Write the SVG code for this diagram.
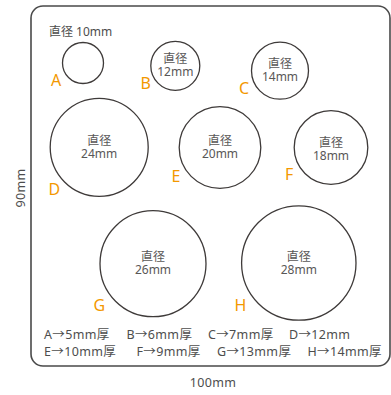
<svg xmlns="http://www.w3.org/2000/svg" width="391" height="395" viewBox="0 0 391 395">
<style>
text{font-family:"Noto Sans","Noto Sans CJK JP",sans-serif;}
.c{fill:none;stroke:#3e3a39;stroke-width:1.3;}
.t{font-size:12px;fill:#595757;text-anchor:middle;}
.l{font-size:16px;fill:#f39800;}
.g{font-size:12px;fill:#4d4d4d;}
.k{font-size:12.5px;fill:#4d4d4d;letter-spacing:0.35px;}
</style>
<rect x="31" y="6" width="359" height="360" rx="12" fill="#fff" stroke="#4a4a4a" stroke-width="1.6"/>
<text class="g" x="49" y="36">直径 10mm</text>
<g id="A"><circle class="c" cx="83" cy="63" r="20.5"/><text class="l" x="51" y="86">A</text></g>
<g id="B"><circle class="c" cx="175.3" cy="65.8" r="24.5"/><text class="t" x="175.3" y="63">直径<tspan x="175.3" dy="13.3">12mm</tspan></text><text class="l" x="140.5" y="88.5">B</text></g>
<g id="C"><circle class="c" cx="280" cy="70.7" r="28.5"/><text class="t" x="280" y="67.5">直径<tspan x="280" dy="13.3">14mm</tspan></text><text class="l" x="239" y="94">C</text></g>
<g id="D"><circle class="c" cx="99.2" cy="147.3" r="49"/><text class="t" x="99.2" y="144.5">直径<tspan x="99.2" dy="13.3">24mm</tspan></text><text class="l" x="48.5" y="195">D</text></g>
<g id="E"><circle class="c" cx="220" cy="147.5" r="40.8"/><text class="t" x="220" y="144.5">直径<tspan x="220" dy="13.3">20mm</tspan></text><text class="l" x="171.5" y="181.5">E</text></g>
<g id="F"><circle class="c" cx="331" cy="147.5" r="36.8"/><text class="t" x="331" y="146.5">直径<tspan x="331" dy="13.3">18mm</tspan></text><text class="l" x="285" y="180">F</text></g>
<g id="G"><circle class="c" cx="153" cy="263.7" r="53"/><text class="t" x="153" y="261">直径<tspan x="153" dy="13.3">26mm</tspan></text><text class="l" x="93.5" y="310.5">G</text></g>
<g id="H"><circle class="c" cx="298.8" cy="263" r="57.2"/><text class="t" x="298.8" y="260.5">直径<tspan x="298.8" dy="13.3">28mm</tspan></text><text class="l" x="234.5" y="311">H</text></g>
<g id="legend">
<text class="k" x="44" y="338.5">A→5mm厚</text>
<text class="k" x="126.5" y="338.5">B→6mm厚</text>
<text class="k" x="208" y="338.5">C→7mm厚</text>
<text class="k" x="289" y="338.5">D→12mm</text>
<text class="k" x="44" y="356">E→10mm厚</text>
<text class="k" x="136.5" y="356">F→9mm厚</text>
<text class="k" x="217" y="356">G→13mm厚</text>
<text class="k" x="307.5" y="356">H→14mm厚</text>
</g>
<text class="k" x="213" y="387" text-anchor="middle">100mm</text>
<text class="k" transform="translate(24.5,188) rotate(-90)" text-anchor="middle">90mm</text>
</svg>
